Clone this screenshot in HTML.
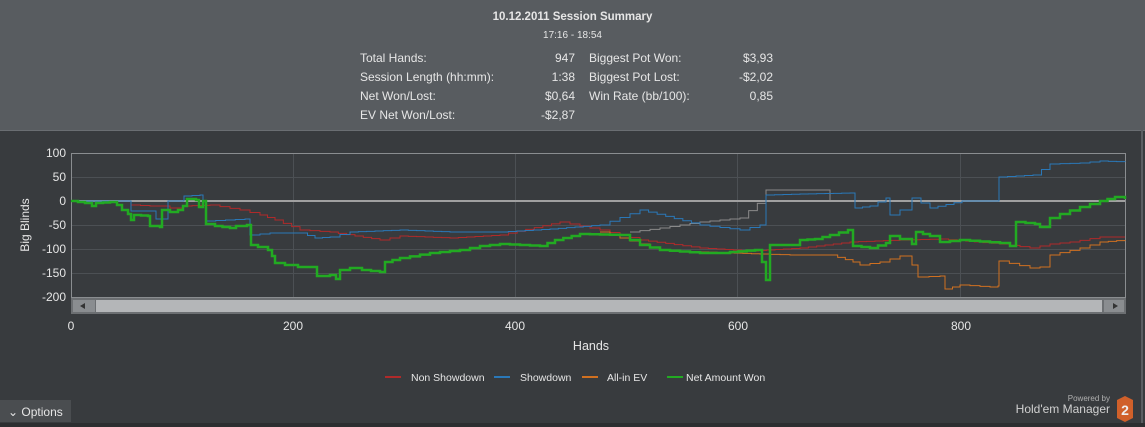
<!DOCTYPE html>
<html><head><meta charset="utf-8"><style>
body{margin:0;width:1145px;height:427px;overflow:hidden;background:#383b3e;font-family:"Liberation Sans",sans-serif;color:#e6e6e6;position:relative}
.hdr{position:absolute;left:0;top:0;width:1145px;height:130px;background:#585c60}
.t{position:absolute;font-size:12px;white-space:nowrap}
.r{text-align:right}
</style></head><body>
<div class="hdr"></div>
<div class="t" style="left:0;width:1145px;text-align:center;top:11px;font-weight:bold;font-size:11.5px">10.12.2011 Session Summary</div>
<div class="t" style="left:0;width:1145px;text-align:center;top:30px;font-size:10px">17:16 - 18:54</div>
<div class="t" style="left:360px;top:51px">Total Hands:</div><div class="t r" style="left:475px;width:100px;top:51px">947</div>
<div class="t" style="left:360px;top:70px">Session Length (hh:mm):</div><div class="t r" style="left:475px;width:100px;top:70px">1:38</div>
<div class="t" style="left:360px;top:89px">Net Won/Lost:</div><div class="t r" style="left:475px;width:100px;top:89px">$0,64</div>
<div class="t" style="left:360px;top:108px">EV Net Won/Lost:</div><div class="t r" style="left:475px;width:100px;top:108px">-$2,87</div>
<div class="t" style="left:589px;top:51px">Biggest Pot Won:</div><div class="t r" style="left:673px;width:100px;top:51px">$3,93</div>
<div class="t" style="left:589px;top:70px">Biggest Pot Lost:</div><div class="t r" style="left:673px;width:100px;top:70px">-$2,02</div>
<div class="t" style="left:589px;top:89px">Win Rate (bb/100):</div><div class="t r" style="left:673px;width:100px;top:89px">0,85</div>
<svg width="1145" height="427" style="position:absolute;left:0;top:0" font-family="Liberation Sans,sans-serif">
<rect x="0" y="130" width="1145" height="1" fill="#6a6e72"/>
<rect x="1141" y="130" width="2" height="297" fill="#5a5e62"/>
<g stroke="#4c5054" stroke-width="1">
<line x1="71" y1="177.5" x2="1125" y2="177.5"/><line x1="71" y1="225.5" x2="1125" y2="225.5"/><line x1="71" y1="249.5" x2="1125" y2="249.5"/><line x1="71" y1="273.5" x2="1125" y2="273.5"/>
<line x1="293.5" y1="153" x2="293.5" y2="297"/><line x1="515.5" y1="153" x2="515.5" y2="297"/><line x1="737.5" y1="153" x2="737.5" y2="297"/><line x1="960.5" y1="153" x2="960.5" y2="297"/>
</g>
<rect x="71.5" y="153.5" width="1054" height="144" fill="none" stroke="#8a8d90"/>
<line x1="71" y1="201" x2="1125" y2="201" stroke="#a0a0a0" stroke-width="2"/>
<g font-size="12" fill="#e6e6e6" text-anchor="end">
<text x="66" y="157">100</text><text x="66" y="181">50</text><text x="66" y="205">0</text><text x="66" y="229">-50</text><text x="66" y="253">-100</text><text x="66" y="277">-150</text><text x="66" y="301">-200</text>
</g>
<text transform="translate(29,225) rotate(-90)" font-size="12" fill="#e6e6e6" text-anchor="middle">Big Blinds</text>
<polyline class="s" fill="none" stroke="#8a8a8a" stroke-width="1" points="630,232 660,228 700,222 740,218 766,196 766,190 820,190 830,200"/>
<polyline class="s" fill="none" stroke="#b02a2a" stroke-width="1" points="71,201 131,201 131,205 150,206 165,206 170,208 183,206 210,205 240,210 260,215 275,220 300,230 330,232 380,240 400,236 450,238 500,235 560,222 600,230 640,240 700,248 750,251 800,248 850,242 900,240 940,239 1000,244 1030,248 1050,244 1070,242 1100,237 1125,237"/>
<polyline class="s" fill="none" stroke="#2a78b8" stroke-width="1" points="71,201 130,201 131,211 150,211 156,219 165,219 168,201 183,201 184,196 200,195 203,201 206,221 245,219 250,235 270,233 300,233 315,238 330,237 350,232 400,230 450,232 500,232 550,229 600,225 640,210 700,225 740,230 760,225 766,195 800,194 850,193 855,208 870,206 886,198 890,215 900,210 912,198 930,208 962,201 998,201 999,177 1033,175 1050,164 1080,163 1100,161 1125,162"/>
<polyline class="s" fill="none" stroke="#d07020" stroke-width="1" points="600,232 640,244 660,250 700,252 760,254 790,255 830,255 853,262 860,265 880,262 900,256 912,265 918,277 940,276 945,289 960,285 990,287 998,286 999,261 1030,268 1040,267 1050,255 1080,248 1100,242 1125,240"/>
<polyline class="s" fill="none" stroke="#22aa22" stroke-width="2.5" points="71,201 85,203 92,206 96,203 110,202 117,205 122,210 128,214 131,220 134,215 148,216 150,226 160,227 162,210 170,212 178,210 183,206 187,199 196,200 199,207 203,201 206,224 215,226 230,228 236,226 247,225 251,245 258,247 268,250 272,256 275,263 285,265 298,267 312,267 317,276 330,275 336,279 340,270 350,268 362,270 380,272 385,262 400,258 430,253 460,250 480,246 500,244 540,246 555,240 580,234 620,235 640,245 660,250 700,253 720,253 730,252 755,250 762,262 766,280 770,245 790,245 800,240 815,239 830,235 848,230 853,246 870,248 886,243 890,236 900,239 912,244 916,232 930,236 940,242 960,240 1000,243 1010,246 1016,222 1035,224 1040,227 1050,218 1060,214 1080,207 1100,201 1115,197 1125,199"/>
<rect x="71" y="298" width="1055" height="16" fill="#6c6f72"/>
<rect x="96" y="300" width="1006" height="12" fill="#b4b6b8"/>
<rect x="73" y="300" width="22" height="12" fill="#8a8d90"/><rect x="1104" y="300" width="20" height="12" fill="#8a8d90"/>
<polygon points="80,306 85,303 85,309" fill="#333"/><polygon points="1118,306 1113,303 1113,309" fill="#333"/>
<g font-size="12" fill="#e6e6e6" text-anchor="middle">
<text x="71" y="330">0</text><text x="293" y="330">200</text><text x="515" y="330">400</text><text x="738" y="330">600</text><text x="961" y="330">800</text>
<text x="591" y="350" font-size="12.5">Hands</text>
</g>
<g font-size="10.5" fill="#e6e6e6">
<line x1="385" y1="377" x2="401" y2="377" stroke="#b02a2a" stroke-width="2"/><text x="411" y="381">Non Showdown</text>
<line x1="494" y1="377" x2="510" y2="377" stroke="#2a78b8" stroke-width="2"/><text x="520" y="381">Showdown</text>
<line x1="582" y1="377" x2="598" y2="377" stroke="#d07020" stroke-width="2"/><text x="607" y="381">All-in EV</text>
<line x1="667" y1="377" x2="683" y2="377" stroke="#22aa22" stroke-width="2"/><text x="686" y="381">Net Amount Won</text>
</g>
<rect x="0" y="400" width="71" height="22" fill="#4a4d50"/>
<text x="8" y="416" font-size="12" fill="#e6e6e6">⌄  Options</text>
<text x="1110" y="401" font-size="8" fill="#b0b0b0" text-anchor="end">Powered by</text>
<text x="1110" y="413" font-size="12" fill="#d0d0d0" text-anchor="end">Hold'em Manager</text>
<polygon points="1125,396 1133,400 1133,418 1125,422 1117,418 1117,400" fill="#d0602a"/>
<text x="1125" y="415" font-size="14" font-weight="bold" fill="#eee" text-anchor="middle">2</text>
<rect x="0" y="423" width="1145" height="4" fill="#2c2e30"/>
</svg>
<script>
document.querySelectorAll('polyline.s').forEach(function(p){
var pts=p.getAttribute('points').trim().split(/\s+/).map(function(s){return s.split(',').map(Number);});
var out=[];
for(var i=0;i<pts.length;i++){
 if(i>0){
  var a=pts[i-1],b=pts[i],n=Math.max(1,Math.round(Math.abs(b[0]-a[0])/9));
  for(var k=1;k<=n;k++){
   var x=a[0]+(b[0]-a[0])*k/n,y=a[1]+(b[1]-a[1])*k/n,py=a[1]+(b[1]-a[1])*(k-1)/n;
   out.push(x+','+py);out.push(x+','+y);
  }
 } else out.push(pts[0].join(','));
}
p.setAttribute('points',out.join(' '));
});
</script>
</body></html>
